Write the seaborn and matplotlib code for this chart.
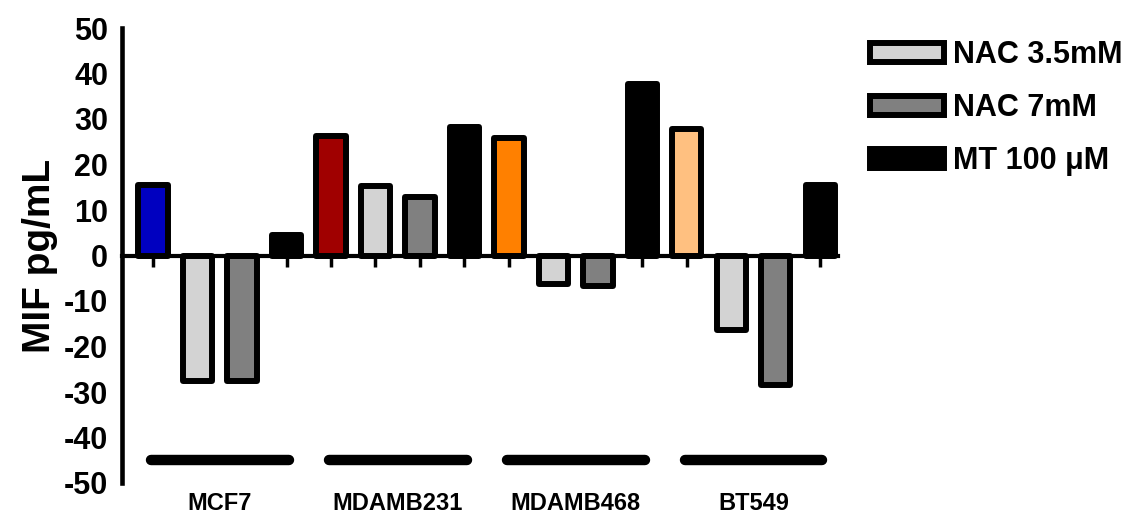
#################################################################
## MIF change per cell line after NAC / MT treatment
#################################################################

'''IMPORTS'''
import pandas as pd
import numpy as np
import matplotlib
matplotlib.use('Agg')
import matplotlib.pyplot as plt
from matplotlib.patches import Patch
import seaborn as sns

'''VARIABLES'''
cellLines = ['MCF7', 'MDAMB231', 'MDAMB468', 'BT549']
treatments = ['Control', 'NAC 3.5mM', 'NAC 7mM', 'MT 100 \u03bcM']
# values per cell line, in treatment order
mcf7 = [15.4, -27.6, -27.6, 4.5]
mdamb231 = [26.3, 15.2, 12.8, 28.2]
mdamb468 = [25.9, -6.2, -6.6, 37.6]
bt549 = [27.8, -16.3, -28.5, 15.4]
controlColors = ['#0000C0', '#A00000', '#FF8000', '#FFC080']
treatColors = ['#D3D3D3', '#808080', '#000000']

'''BUILD TABLE'''
rows = []
for line, vals, cc in zip(cellLines, [mcf7, mdamb231, mdamb468, bt549], controlColors):
    for t, v, col in zip(treatments, vals, [cc] + treatColors):
        rows.append({'BAR': line + ' ' + t, 'LINE': line, 'TREAT': t, 'MIF': v, 'COLOR': col})
df1 = pd.DataFrame(rows)

'''MAIN'''
def main():
    sns.set_style('white')
    plt.rcParams['font.family'] = ['Liberation Sans', 'DejaVu Sans']
    plt.rcParams['font.weight'] = 'bold'
    plt.rcParams['axes.unicode_minus'] = False
    plt.rcParams['text.color'] = 'black'
    plt.rcParams['axes.labelcolor'] = 'black'
    plt.rcParams['axes.edgecolor'] = 'black'
    plt.rcParams['xtick.color'] = 'black'
    plt.rcParams['ytick.color'] = 'black'

    fig = plt.figure(figsize=(11.28, 5.2), dpi=100)
    ax = fig.add_axes([122 / 1128, 1 - 483 / 520, (838 - 122) / 1128, 455 / 520])

    sns.barplot(data=df1, x='BAR', y='MIF', hue='BAR', palette=list(df1.COLOR), saturation=1,
                width=0.66, edgecolor='black', linewidth=4.3, legend=False, ax=ax)
    for p in ax.patches:
        p.set_joinstyle('round')

    ax.set_ylim(-50, 50)
    ax.set_xlim(-0.7, 15.4)
    ax.set_yticks(np.arange(-50, 51, 10))
    ax.tick_params(axis='y', direction='out', length=7, width=3, labelsize=22, pad=3)
    for lab in ax.get_yticklabels():
        lab.set_fontweight('bold')

    # x axis sits at zero, ticks under each bar
    ax.spines['bottom'].set_position(('data', 0))
    ax.spines['bottom'].set_linewidth(3)
    ax.spines['left'].set_linewidth(3.3)
    ax.spines['top'].set_visible(False)
    ax.spines['right'].set_visible(False)
    ax.tick_params(axis='x', direction='out', length=8, width=2.5, labelbottom=False, bottom=True)
    ax.set_xlabel('')
    ax.set_ylabel('MIF pg/mL', fontsize=28, fontweight='bold', labelpad=4)

    # group bars and labels underneath
    for i, line in enumerate(cellLines):
        ax.plot([i * 4 - 0.05, i * 4 + 3.05], [-45, -45], color='black', lw=7.5,
                solid_capstyle='round', clip_on=False)
        ax.text(i * 4 + 1.5, -54.5, line, ha='center', va='center', fontsize=17,
                fontweight='bold', clip_on=False)

    handles = [Patch(facecolor=c, edgecolor='black', linewidth=4.3, joinstyle='round') for c in treatColors]
    leg = fig.legend(handles, treatments[1:], loc='upper left', bbox_to_anchor=(858 / 1128, 1 - 28 / 520),
                     frameon=False, fontsize=22, handlelength=2.4, handleheight=0.6,
                     labelspacing=0.75, handletextpad=0.3, borderaxespad=0)
    for t in leg.get_texts():
        t.set_fontweight('bold')

    fig.savefig('out.png', dpi=100)


if __name__ == "__main__":
    main()
